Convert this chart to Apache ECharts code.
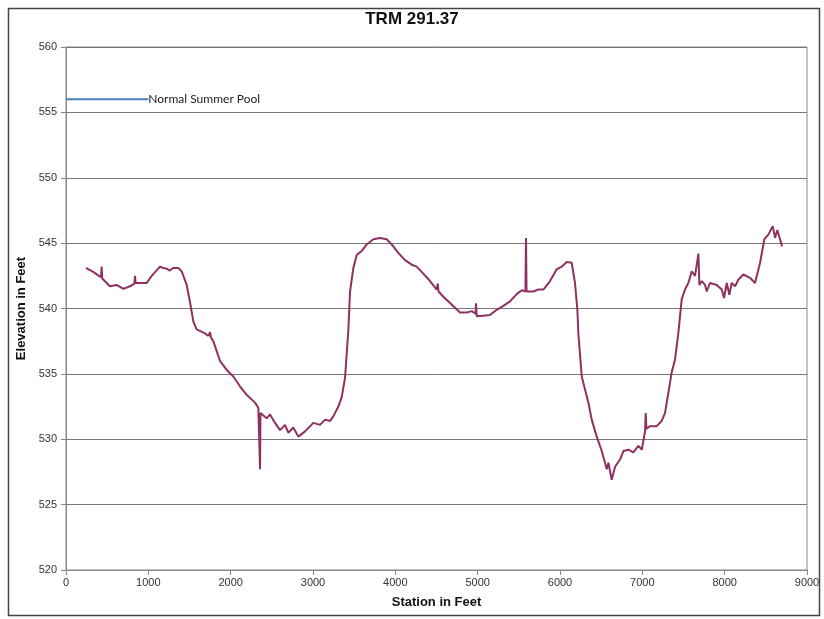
<!DOCTYPE html>
<html>
<head>
<meta charset="utf-8">
<title>TRM 291.37</title>
<script src="https://cdn.jsdelivr.net/npm/echarts@6/dist/echarts.min.js"></script>
<style>
  html, body { margin: 0; padding: 0; background: #fff; }
  #chart { width: 824px; height: 619px; }
</style>
</head>
<body>
<div id="chart"></div>
<script>
// Channel profile: station (ft) vs bed elevation (ft)
var stations = [
  243, 330, 400, 425, 433, 440, 534, 615, 697, 777, 830, 838, 845, 980, 1041,
  1142, 1180, 1223, 1260, 1300, 1364, 1405, 1466, 1506, 1547, 1587, 1607, 1688,
  1730, 1749, 1760, 1789, 1870, 1952, 2032, 2113, 2194, 2296, 2336, 2352, 2357,
  2362, 2376, 2437, 2478, 2539, 2600, 2660, 2700, 2761, 2822, 2903, 3004, 3085,
  3146, 3207, 3247, 3308, 3348, 3389, 3429, 3450, 3490, 3531, 3592, 3652, 3733,
  3814, 3895, 3956, 4036, 4118, 4199, 4259, 4320, 4421, 4502, 4515, 4525, 4583,
  4684, 4786, 4867, 4928, 4975, 4980, 4988, 5069, 5150, 5231, 5312, 5393, 5474,
  5535, 5580, 5587, 5594, 5676, 5737, 5798, 5879, 5960, 6021, 6082, 6142, 6182,
  6211, 6223, 6264, 6304, 6345, 6385, 6446, 6507, 6568, 6588, 6628, 6669, 6729,
  6770, 6830, 6891, 6952, 6993, 7033, 7041, 7050, 7093, 7174, 7235, 7275, 7316,
  7356, 7397, 7437, 7478, 7518, 7559, 7600, 7640, 7681, 7693, 7722, 7762, 7782,
  7822, 7904, 7964, 7992, 8025, 8057, 8085, 8126, 8166, 8227, 8308, 8369, 8430,
  8482, 8531, 8584, 8612, 8640, 8697
];
var elevations = [
  543.1, 542.8, 542.5, 542.4, 543.2, 542.3, 541.7, 541.8, 541.5, 541.7, 541.9, 542.5, 541.95, 541.95, 542.5,
  543.2, 543.1, 543.05, 542.9, 543.1, 543.1, 542.85, 541.8, 540.5, 539.0, 538.4, 538.3, 538.1,
  537.9, 538.2, 537.8, 537.5, 536.0, 535.3, 534.8, 534.05, 533.4, 532.8, 532.4, 532.3, 527.7,
  532.0, 531.9, 531.6, 531.9, 531.25, 530.7, 531.1, 530.5, 530.9, 530.2, 530.6, 531.25, 531.1,
  531.5, 531.4, 531.75, 532.5, 533.2, 534.7, 538.3, 541.3, 543.1, 544.1, 544.4, 544.9, 545.3,
  545.4, 545.3, 544.9, 544.25, 543.7, 543.35, 543.2, 542.8, 542.1, 541.45, 541.9, 541.3, 540.9,
  540.3, 539.7, 539.7, 539.8, 539.6, 540.4, 539.4, 539.45, 539.5, 539.9, 540.2, 540.55, 541.1,
  541.4, 541.3, 545.4, 541.3, 541.3, 541.45, 541.45, 542.1, 543.0, 543.2, 543.55, 543.5, 541.95,
  539.9, 538.1, 534.8, 533.8, 532.8, 531.5, 530.2, 529.1, 527.7, 528.2, 526.9, 527.9, 528.45,
  529.1, 529.2, 529.0, 529.5, 529.2, 530.6, 532.0, 530.8, 531.0, 531.0, 531.4, 532.0, 533.55,
  535.1, 536.1, 538.1, 540.7, 541.45, 541.95, 542.85, 542.5, 544.2, 541.8, 542.1, 541.8, 541.3,
  541.95, 541.8, 541.45, 540.8, 541.95, 541.05, 541.95, 541.7, 542.2, 542.6, 542.35, 541.95, 543.5,
  545.3, 545.65, 546.3, 545.4, 546.0, 544.75
];

// Normal summer pool reference level
var poolStations = [0, 1000];
var poolLevel = 556;
var poolLabel = 'Normal Summer Pool';

var profileData = stations.map(function (s, i) { return [s, elevations[i]]; });
var poolData = poolStations.map(function (s) { return [s, poolLevel]; });

var axisFont = { fontFamily: '"Liberation Sans", Arial, sans-serif', fontSize: 11, color: '#333' };

var chart = echarts.init(document.getElementById('chart'), null, { renderer: 'canvas' });
chart.setOption({
  animation: false,
  backgroundColor: '#fff',
  title: {
    text: 'TRM 291.37', left: 'center', top: 6,
    textStyle: { fontFamily: '"Liberation Sans", Arial, sans-serif', fontSize: 17, fontWeight: 'bold', color: '#111' }
  },
  graphic: [{
    type: 'rect', left: 6, top: 6, silent: true,
    shape: { width: 811, height: 607 },
    style: { fill: 'none', stroke: '#444', lineWidth: 1.5 }
  }],
  grid: {
    left: 66, right: 17, top: 47, bottom: 49,
    show: true, borderColor: '#888', borderWidth: 1, backgroundColor: 'transparent'
  },
  xAxis: {
    type: 'value', min: 0, max: 9000, interval: 1000,
    name: 'Station in Feet', nameLocation: 'middle', nameGap: 26,
    nameTextStyle: { fontFamily: '"Liberation Sans", Arial, sans-serif', fontSize: 13, fontWeight: 'bold', color: '#111' },
    axisLine: { show: true, lineStyle: { color: '#888', width: 1 } },
    axisTick: { show: true, inside: false, length: 5, lineStyle: { color: '#888' } },
    axisLabel: Object.assign({ margin: 7, formatter: function (v) { return String(v); } }, axisFont),
    splitLine: { show: false }
  },
  yAxis: {
    type: 'value', min: 520, max: 560, interval: 5,
    name: 'Elevation in Feet', nameLocation: 'middle', nameGap: 37, nameRotate: 90,
    nameTextStyle: { fontFamily: '"Liberation Sans", Arial, sans-serif', fontSize: 13, fontWeight: 'bold', color: '#111' },
    axisLine: { show: true, lineStyle: { color: '#888', width: 1 } },
    axisTick: { show: true, inside: false, length: 5, lineStyle: { color: '#888' } },
    axisLabel: Object.assign({ margin: 9 }, axisFont),
    splitLine: { show: true, lineStyle: { color: '#777', width: 1 } }
  },
  series: [
    {
      name: 'Profile', type: 'line', data: profileData,
      symbol: 'none', smooth: false,
      lineStyle: { color: '#8e3162', width: 2 }
    },
    {
      name: poolLabel, type: 'line', data: poolData,
      symbol: 'none',
      lineStyle: { color: '#4a7ebb', width: 2 },
      endLabel: {
        show: true, distance: 0,
        formatter: poolLabel,
        fontFamily: 'Lato, "Open Sans", sans-serif', fontSize: 12, color: '#222'
      }
    }
  ]
});
</script>
</body>
</html>
